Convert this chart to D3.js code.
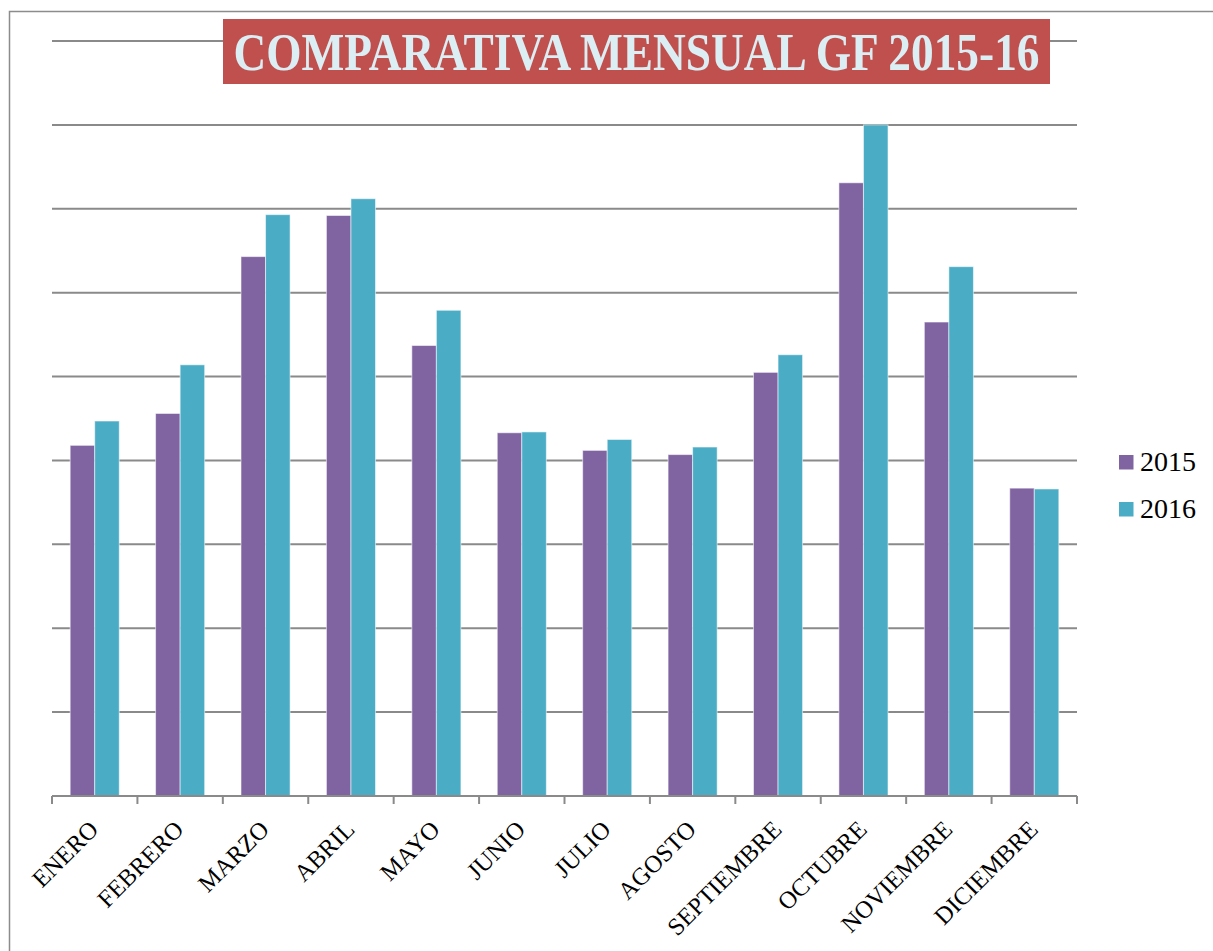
<!DOCTYPE html>
<html>
<head>
<meta charset="utf-8">
<script src="https://cdn.jsdelivr.net/npm/d3@7"></script>
<style>
  body { margin: 0; background: #fff; }
  svg { display: block; }
</style>
</head>
<body>
<svg width="1213" height="951"></svg>
<script>
var months = ["ENERO", "FEBRERO", "MARZO", "ABRIL", "MAYO", "JUNIO", "JULIO",
  "AGOSTO", "SEPTIEMBRE", "OCTUBRE", "NOVIEMBRE", "DICIEMBRE"];
var series = ["2015", "2016"];
var values2015 = [4.18, 4.56, 6.43, 6.92, 5.37, 4.33, 4.12, 4.07, 5.05, 7.31, 5.65, 3.67];
var values2016 = [4.47, 5.14, 6.93, 7.12, 5.79, 4.34, 4.25, 4.16, 5.26, 8.00, 6.31, 3.66];
var gridTicks = [0, 1, 2, 3, 4, 5, 6, 7, 8, 9];
var titleText = "COMPARATIVA MENSUAL GF 2015-16";

var svg = d3.select("svg");
var margin = {top: 41, right: 136, bottom: 155, left: 52},
    width = 1213 - margin.left - margin.right,
    height = 951 - margin.top - margin.bottom;

var data = months.map(function(m, i) {
  return {month: m, "2015": values2015[i], "2016": values2016[i]};
});

// outer frame
svg.append("path")
  .attr("d", "M9.5,951 V11.5 H1213")
  .attr("fill", "none")
  .attr("stroke", "#8c8c8c")
  .attr("stroke-width", 1.5);

var g = svg.append("g")
  .attr("transform", "translate(" + margin.left + "," + margin.top + ")");

var x0 = d3.scaleBand().domain(months).range([0, width]).padding(0);
var x1 = d3.scaleBand().domain(series).range([0, x0.bandwidth()])
  .paddingInner(0).paddingOuter(0.74);
var y = d3.scaleLinear().domain([0, 9]).range([height, 0]);
var z = d3.scaleOrdinal().domain(series).range(["#8064a2", "#4bacc6"]);

// gridlines
g.append("g")
  .attr("class", "grid")
  .selectAll("line")
  .data(gridTicks.slice(1))
  .enter().append("line")
    .attr("x1", 0)
    .attr("x2", width)
    .attr("y1", d => y(d))
    .attr("y2", d => y(d))
    .attr("stroke", "#8a8a8a")
    .attr("stroke-width", 2);

// bars
var groups = g.append("g").selectAll("g")
  .data(data)
  .enter().append("g")
    .attr("transform", d => "translate(" + x0(d.month) + ",0)");

groups.selectAll("rect")
  .data(d => series.map(s => ({key: s, value: d[s]})))
  .enter().append("rect")
    .attr("x", d => x1(d.key))
    .attr("y", d => y(d.value))
    .attr("width", x1.bandwidth())
    .attr("height", d => height - y(d.value))
    .attr("fill", d => z(d.key))
    .attr("stroke", "rgba(255,255,255,0.55)")
    .attr("stroke-width", 1);

// x axis with ticks at band edges
var axis = g.append("g")
  .attr("transform", "translate(0," + height + ")");
axis.append("line")
  .attr("x1", 0).attr("x2", width)
  .attr("stroke", "#8a8a8a").attr("stroke-width", 2);
axis.selectAll(".tick")
  .data(d3.range(months.length + 1))
  .enter().append("line")
    .attr("x1", i => i * x0.step())
    .attr("x2", i => i * x0.step())
    .attr("y1", 0).attr("y2", 8)
    .attr("stroke", "#8a8a8a").attr("stroke-width", 2);

axis.selectAll("text")
  .data(months)
  .enter().append("text")
    .attr("transform", d => "translate(" + (x0(d) + x0.bandwidth() / 2 + 5) + ",35) rotate(-45)")
    .style("text-anchor", "end")
    .style("font-family", "'Liberation Serif', 'DejaVu Serif', serif")
    .style("font-size", "24.5px")
    .attr("fill", "#000")
    .text(d => d);

// title
var title = svg.append("g");
title.append("rect")
  .attr("x", 223).attr("y", 19)
  .attr("width", 827).attr("height", 65)
  .attr("fill", "#c0504d");
title.append("text")
  .attr("x", 636.5).attr("y", 70)
  .style("text-anchor", "middle")
  .style("font-family", "'Liberation Serif', 'DejaVu Serif', serif")
  .style("font-weight", "bold")
  .style("font-size", "52px")
  .attr("textLength", 806)
  .attr("lengthAdjust", "spacingAndGlyphs")
  .attr("fill", "#dbeef4")
  .text(titleText);

// legend
var legend = svg.append("g").attr("transform", "translate(1119,455)");
var items = legend.selectAll("g")
  .data(series)
  .enter().append("g")
    .attr("transform", (d, i) => "translate(0," + (i * 47) + ")");
items.append("rect")
  .attr("width", 14.5).attr("height", 14.5)
  .attr("fill", d => z(d));
items.append("text")
  .attr("x", 21).attr("y", 16)
  .style("font-family", "'Liberation Serif', 'DejaVu Serif', serif")
  .style("font-size", "28px")
  .attr("fill", "#000")
  .text(d => d);
</script>
</body>
</html>
